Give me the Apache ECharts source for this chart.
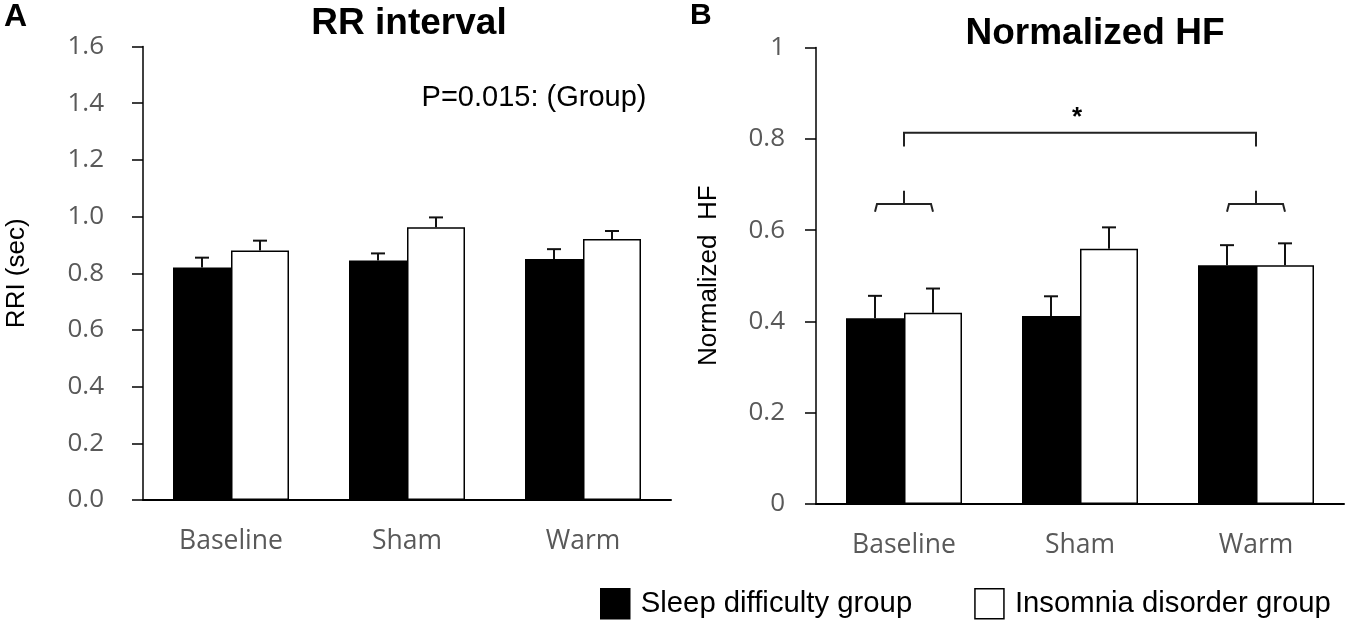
<!DOCTYPE html>
<html>
<head>
<meta charset="utf-8">
<script src="https://cdn.jsdelivr.net/npm/echarts@6/dist/echarts.min.js"></script>
<style>
  html, body { margin: 0; padding: 0; background: #fff; }
  #main { width: 1350px; height: 626px; }
</style>
</head>
<body>
<div id="main"></div>
<script>
// data
var categories = ['Baseline', 'Sham', 'Warm'];
var groupNames = ['Sleep difficulty group', 'Insomnia disorder group'];

var rriSleep = [0.82, 0.845, 0.85];
var rriSleepErr = [0.035, 0.025, 0.035];
var rriInsomnia = [0.88, 0.962, 0.921];
var rriInsomniaErr = [0.035, 0.035, 0.028];

var hfSleep = [0.407, 0.412, 0.523];
var hfSleepErr = [0.049, 0.043, 0.044];
var hfInsomnia = [0.419, 0.559, 0.523];
var hfInsomniaErr = [0.053, 0.047, 0.048];

var pNote = 'P=0.015: (Group)';
// big bracket: from category, to category, level, foot, star level
var bigBracket = [0, 2, 0.813, 0.783, 0.846];
// small brackets: category, level, foot, tip
var smallBrackets = [[0, 0.657, 0.640, 0.686], [2, 0.657, 0.640, 0.686]];

var BAR_W = 58;
var tickFont = 'Open Sans';
var mainFont = 'Liberation Sans';

function errData(vals, errs) {
  return vals.map(function (v, i) { return [i, v, errs[i]]; });
}

// one-sided error bar with cap, shifted onto its bar
function errRender(shift) {
  return function (params, api) {
    var base = api.coord([api.value(0), api.value(1)]);
    var top = api.coord([api.value(0), api.value(1) + api.value(2)]);
    var x = base[0] + shift;
    var st = { stroke: '#111', lineWidth: 2 };
    return {
      type: 'group',
      children: [
        { type: 'line', shape: { x1: x, y1: base[1], x2: x, y2: top[1] }, style: st },
        { type: 'line', shape: { x1: x - 7, y1: top[1], x2: x + 7, y2: top[1] }, style: st }
      ]
    };
  };
}

function barSeries(name, data, xi, fill) {
  return {
    name: name, type: 'bar', xAxisIndex: xi, yAxisIndex: xi,
    data: data, barWidth: BAR_W, barGap: '0%',
    itemStyle: { color: fill, borderColor: '#000', borderWidth: 1.5 },
    z: 2
  };
}

function errSeries(vals, errs, xi, shift) {
  return {
    type: 'custom', xAxisIndex: xi, yAxisIndex: xi,
    data: errData(vals, errs), encode: { x: 0, y: 1 },
    renderItem: errRender(shift), z: 3, silent: true
  };
}

function yAxis(gi, max, name, gap, fmt) {
  return {
    type: 'value', gridIndex: gi, min: 0, max: max, interval: 0.2,
    name: name, nameLocation: 'middle', nameGap: gap,
    nameTextStyle: { fontFamily: mainFont, fontSize: 26, color: '#000' },
    axisLine: { show: true, lineStyle: { color: '#000', width: 1.5 } },
    axisTick: { show: true, inside: false, length: 11, lineStyle: { color: '#000', width: 1.5 } },
    axisLabel: { fontFamily: tickFont, fontSize: 26, color: '#595959', margin: gi === 0 ? 39 : 31, formatter: fmt },
    splitLine: { show: false }
  };
}

function xAxis(gi) {
  return {
    type: 'category', gridIndex: gi, data: categories,
    axisLine: { lineStyle: { color: '#000', width: 2 } },
    axisTick: { show: false },
    axisLabel: { fontFamily: tickFont, fontSize: 26.5, color: '#595959', margin: 28 }
  };
}

var chart = echarts.init(document.getElementById('main'));
chart.setOption({
  animation: false,
  backgroundColor: '#fff',
  title: [
    { text: 'A', left: -1, top: -4, textStyle: { fontFamily: mainFont, fontSize: 32, fontWeight: 'bold', color: '#000' } },
    { text: 'B', left: 685, top: -4, textStyle: { fontFamily: mainFont, fontSize: 30, fontWeight: 'bold', color: '#000' } },
    { text: 'RR interval', left: 404, top: 0, textAlign: 'center', textStyle: { fontFamily: mainFont, fontSize: 37, fontWeight: 'bold', color: '#000' } },
    { text: 'Normalized HF', left: 1090, top: 10, textAlign: 'center', textStyle: { fontFamily: mainFont, fontSize: 37, fontWeight: 'bold', color: '#000' } },
    { text: pNote, left: 529, top: 78, textAlign: 'center', textStyle: { fontFamily: mainFont, fontSize: 29, fontWeight: 'normal', color: '#000' } }
  ],
  legend: {
    left: 600, top: 588, padding: 0, selectedMode: false,
    itemWidth: 29, itemHeight: 30, itemGap: 62,
    textStyle: { fontFamily: mainFont, fontSize: 29.3, color: '#000', padding: [0, 0, 0, 6] },
    data: [
      { name: groupNames[0], icon: 'rect', itemStyle: { color: '#000', borderColor: '#000', borderWidth: 1.5 } },
      { name: groupNames[1], icon: 'rect', itemStyle: { color: '#fff', borderColor: '#000', borderWidth: 1.5 } }
    ]
  },
  grid: [
    { left: 143, top: 46.5, width: 528, height: 453.5, containLabel: false, outerBoundsMode: 'none' },
    { left: 816, top: 47.5, width: 528, height: 456.5, containLabel: false, outerBoundsMode: 'none' }
  ],
  xAxis: [xAxis(0), xAxis(1)],
  yAxis: [
    yAxis(0, 1.6, 'RRI (sec)', 113, function (v) { return v.toFixed(1); }),
    yAxis(1, 1, 'Normalized  HF', 94, function (v) { return String(+v.toFixed(1)); })
  ],
  series: [
    barSeries(groupNames[0], rriSleep, 0, '#000'),
    barSeries(groupNames[1], rriInsomnia, 0, '#fff'),
    errSeries(rriSleep, rriSleepErr, 0, -BAR_W / 2),
    errSeries(rriInsomnia, rriInsomniaErr, 0, BAR_W / 2),

    barSeries(groupNames[0], hfSleep, 1, '#000'),
    barSeries(groupNames[1], hfInsomnia, 1, '#fff'),
    errSeries(hfSleep, hfSleepErr, 1, -BAR_W / 2),
    errSeries(hfInsomnia, hfInsomniaErr, 1, BAR_W / 2),

    // significance bracket between Baseline and Warm, with star
    {
      type: 'custom', xAxisIndex: 1, yAxisIndex: 1, silent: true, z: 4,
      data: [bigBracket], encode: { x: [0, 1], y: [2, 3, 4] },
      renderItem: function (params, api) {
        var a = api.coord([api.value(0), api.value(2)]);
        var b = api.coord([api.value(1), api.value(2)]);
        var foot = api.coord([api.value(0), api.value(3)])[1];
        var star = api.coord([(api.value(0) + api.value(1)) / 2, api.value(4)]);
        return {
          type: 'group',
          children: [
            { type: 'polyline', shape: { points: [[a[0], foot], [a[0], a[1]], [b[0], b[1]], [b[0], foot]] },
              style: { stroke: '#222', lineWidth: 2, fill: null } },
            { type: 'text', x: star[0] - 3, y: star[1],
              style: { text: '*', fontFamily: mainFont, fontSize: 26, fontWeight: 'bold', fill: '#000', align: 'center', verticalAlign: 'middle' } }
          ]
        };
      }
    },
    // small brackets spanning the two bars of a category
    {
      type: 'custom', xAxisIndex: 1, yAxisIndex: 1, silent: true, z: 4,
      data: smallBrackets, encode: { x: 0, y: [1, 2, 3] },
      renderItem: function (params, api) {
        var c = api.coord([api.value(0), api.value(1)]);
        var foot = api.coord([api.value(0), api.value(2)])[1];
        var tip = api.coord([api.value(0), api.value(3)])[1];
        var x0 = c[0] - BAR_W / 2, x1 = c[0] + BAR_W / 2;
        var st = { stroke: '#222', lineWidth: 2, fill: null };
        return {
          type: 'group',
          children: [
            { type: 'polyline', shape: { points: [[x0, foot], [x0 + 2, c[1]], [x1 - 2, c[1]], [x1, foot]] }, style: st },
            { type: 'line', shape: { x1: c[0], y1: c[1], x2: c[0], y2: tip }, style: st }
          ]
        };
      }
    }
  ]
});
</script>
</body>
</html>
